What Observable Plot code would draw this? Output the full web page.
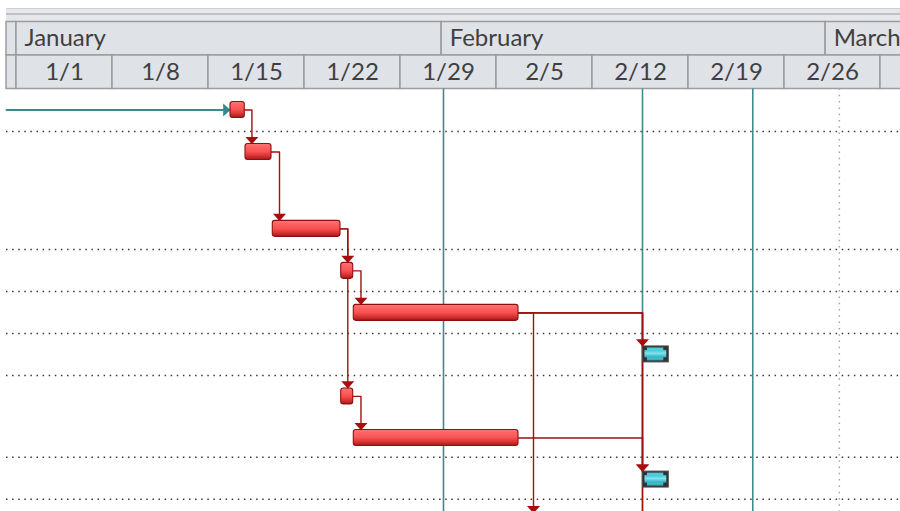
<!DOCTYPE html>
<html><head><meta charset="utf-8">
<script src="https://cdn.jsdelivr.net/npm/d3@7"></script>
<script src="https://cdn.jsdelivr.net/npm/@observablehq/plot@0.6"></script>
<style>
html,body{margin:0;padding:0;background:#fff;overflow:hidden;}
svg{overflow:hidden;display:block;}
</style></head><body><div id="chart"></div>
<script>
// ---------- data ----------
const viewStart = "2017-12-30T20:00Z";
const viewEnd = "2018-03-06T11:00Z";
const chartLeft = "2017-12-31T06:30Z";

const monthStarts = ["2017-12-01","2018-01-01","2018-02-01","2018-03-01"];
const monthEnds   = ["2018-01-01","2018-02-01","2018-03-01","2018-04-01"];
const monthLabels = ["","January","February","March"];

const weekStarts = ["2017-12-25","2018-01-01","2018-01-08","2018-01-15","2018-01-22","2018-01-29","2018-02-05","2018-02-12","2018-02-19","2018-02-26","2018-03-05"];
const weekLabels = ["","1/1","1/8","1/15","1/22","1/29","2/5","2/12","2/19","2/26",""];

const taskStart = ["2018-01-16T14:30Z","2018-01-17T16:45Z","2018-01-19T16:30Z","2018-01-24T16:15Z","2018-01-25T14:15Z","2018-02-15T16:20Z","2018-01-24T16:15Z","2018-01-25T14:15Z","2018-02-15T16:20Z","2018-02-07T04:00Z","2018-02-15T04:00Z"];
const taskEnd   = ["2018-01-17T15:30Z","2018-01-19T14:15Z","2018-01-24T15:00Z","2018-01-25T13:15Z","2018-02-06T14:30Z","2018-02-17T13:30Z","2018-01-25T13:15Z","2018-02-06T14:30Z","2018-02-17T13:30Z","2018-02-12T12:00Z","2018-02-20T12:00Z"];
const taskRow   = [0, 1, 2.83, 3.83, 4.83, 5.82, 6.82, 7.81, 8.8, 9.79, 10.79];
const taskType  = ["task","task","task","task","task","external","task","task","external","task","task"];

const linkFrom = [0,1,2,2,3,6,4,4,4,4,7];
const linkTo   = [1,2,3,6,4,7,9,5,8,10,8];
const linkTurn = ["2018-01-18T04:00Z","2018-01-20T04:15Z","2018-01-25T03:45Z","2018-01-25T03:45Z","2018-01-26T02:50Z","2018-01-26T02:50Z","2018-02-07T16:45Z","2018-02-15T15:30Z","2018-02-15T15:30Z","2018-02-15T15:30Z","2018-02-15T15:30Z"];

const externalLinkStart = "2017-12-31T06:30Z";
const externalLinkTo = 0;

const statusLines = ["2018-02-01T03:15Z","2018-02-15T15:30Z","2018-02-23T16:30Z"];
const currentDateLine = ["2018-03-02T00:00Z"];
const gridRows = [0.51, 3.32, 4.32, 5.32, 6.32, 8.27, 9.27];

// ---------- build tables ----------
const D = s => new Date(s.length === 10 ? s + "T00:00Z" : s);
const DAY = 864e5;
const left = D(chartLeft), vEnd = D(viewEnd);
const months = monthStarts.map((s,i) => ({start: D(s), end: D(monthEnds[i]), label: monthLabels[i]}));
const weeks = weekStarts.map((s,i) => ({start: D(s), end: new Date(+D(s) + 7*DAY), mid: new Date(+D(s) + 3.5*DAY), label: weekLabels[i]}));
const tasks = taskStart.map((s,i) => ({id: i, start: D(s), end: D(taskEnd[i]), row: taskRow[i], type: taskType[i]}));
const HALF = 0.19;
const linkPts = [];
linkFrom.forEach((f,i) => {
  const a = tasks[f], b = tasks[linkTo[i]], t = D(linkTurn[i]);
  linkPts.push({id: i, x: a.end, y: a.row}, {id: i, x: t, y: a.row}, {id: i, x: t, y: b.row - HALF});
});
const arrows = linkTo.map((t,i) => ({x: D(linkTurn[i]), y: tasks[t].row}));
const extPts = [{x: D(externalLinkStart), y: tasks[externalLinkTo].row}, {x: tasks[externalLinkTo].start, y: tasks[externalLinkTo].row}];

const downTri = {draw(ctx){ ctx.moveTo(-6.5,-3.5); ctx.lineTo(6.5,-3.5); ctx.lineTo(0,3.8); ctx.closePath(); }};

const font = "Lato, 'Open Sans', sans-serif";
const hdrFill = "#dfe2e7", hdrStroke = "#9c9c9c";
const clampL = d => (d < left ? left : d);
const Y_TOP = -2.607, Y_BOT = 9.56;
const BAND1 = -2.417, BAND2 = -2.286, M1 = -2.095, M2 = -1.298, W2 = -0.5;

const bars = tasks.filter(d => d.type === "task");
const ext = tasks.filter(d => d.type === "external");

const svg = Plot.plot({
  width: 900, height: 511,
  marginTop: 0, marginBottom: 0, marginLeft: 0, marginRight: 0,
  x: {type: "utc", domain: [D(viewStart), vEnd], axis: null},
  y: {type: "linear", domain: [Y_TOP, Y_BOT], reverse: true, axis: null},
  marks: [
    Plot.rect([{}], {x1: () => left, x2: () => vEnd, y1: BAND1, y2: M1, fill: "#e5e7ea"}),
    Plot.ruleY([BAND1], {x1: () => left, x2: () => vEnd, stroke: "#cfd1d4", strokeWidth: 1.2}),
    Plot.ruleY([BAND2], {x1: () => left, x2: () => vEnd, stroke: "#b4b6b9", strokeWidth: 1.4}),
    Plot.rect(months, {x1: d => clampL(d.start), x2: "end", y1: M1, y2: M2, fill: hdrFill, stroke: hdrStroke, strokeWidth: 1.5}),
    Plot.text(months.filter(d => d.label), {x: "start", y: (M1 + M2) / 2, text: "label", textAnchor: "start", dx: 8, fontSize: 24, fontFamily: font, fill: "#3f3f3f"}),
    Plot.rect(weeks, {x1: d => clampL(d.start), x2: "end", y1: M2, y2: W2, fill: hdrFill, stroke: hdrStroke, strokeWidth: 1.5}),
    Plot.text(weeks.filter(d => d.label), {x: "mid", y: (M2 + W2) / 2, text: "label", fontSize: 24, fontFamily: font, fill: "#3f3f3f"}),
    Plot.ruleY(gridRows, {x1: () => left, x2: () => vEnd, stroke: "#3a3a3a", strokeWidth: 1.5, strokeDasharray: "1.5,4.6"}),
    Plot.ruleX(currentDateLine.map(D), {y1: W2, y2: Y_BOT, stroke: "#a5a5a5", strokeWidth: 1.5, strokeDasharray: "1.5,4.8"}),
    Plot.ruleX(statusLines.map(D), {y1: W2, y2: Y_BOT, stroke: "#3b8d8d", strokeWidth: 1.6}),
    Plot.line(extPts, {x: "x", y: "y", stroke: "#3b8d8d", strokeWidth: 2}),
    Plot.dot([extPts[1]], {x: "x", y: "y", dx: -3.8, symbol: downTri, rotate: -90, fill: "#2f8a8a", stroke: "none", r: 4}),
    Plot.line(linkPts, {x: "x", y: "y", z: "id", stroke: "#a01212", strokeWidth: 1.4}),
    Plot.rect(bars, {x1: "start", x2: "end", y1: d => d.row - HALF, y2: d => d.row + HALF, fill: "url(#barGrad)", stroke: "#8c1010", strokeWidth: 1.1, rx: 2.5}),
    Plot.rect(ext, {x1: "start", x2: "end", y1: d => d.row - HALF, y2: d => d.row + HALF, fill: "#333333", stroke: "#4a4a4a", strokeWidth: 1}),
    Plot.rect(ext, {x1: "start", x2: "end", y1: d => d.row - HALF, y2: d => d.row + HALF, insetLeft: 4.5, insetRight: 5, insetTop: 1.5, insetBottom: 1.5, fill: "url(#cyanGrad)"}),
    Plot.rect(ext, {x1: "start", x2: "end", y1: d => d.row - HALF, y2: d => d.row + HALF, insetLeft: 2, insetRight: 2, insetTop: 4, insetBottom: 4.5, fill: "url(#cyanGrad)"}),
    Plot.dot(arrows, {x: "x", y: "y", dy: -11.6, symbol: downTri, fill: "#a80c0c", stroke: "none", r: 4})
  ]
});

const defs = d3.select(svg).insert("defs", ":first-child");
const g1 = defs.append("linearGradient").attr("id", "barGrad").attr("x1", 0).attr("y1", 0).attr("x2", 0).attr("y2", 1);
[[0, "#f47a7a"], [0.2, "#ff6363"], [0.5, "#f85353"], [0.75, "#db3535"], [1, "#a81818"]].forEach(([o, c]) => g1.append("stop").attr("offset", o).attr("stop-color", c));
const g2 = defs.append("linearGradient").attr("id", "cyanGrad").attr("x1", 0).attr("y1", 0).attr("x2", 0).attr("y2", 1);
[[0, "#3fc3d3"], [0.45, "#7fe5ef"], [1, "#2aa9bb"]].forEach(([o, c]) => g2.append("stop").attr("offset", o).attr("stop-color", c));

document.getElementById("chart").appendChild(svg);
</script>
</body></html>
